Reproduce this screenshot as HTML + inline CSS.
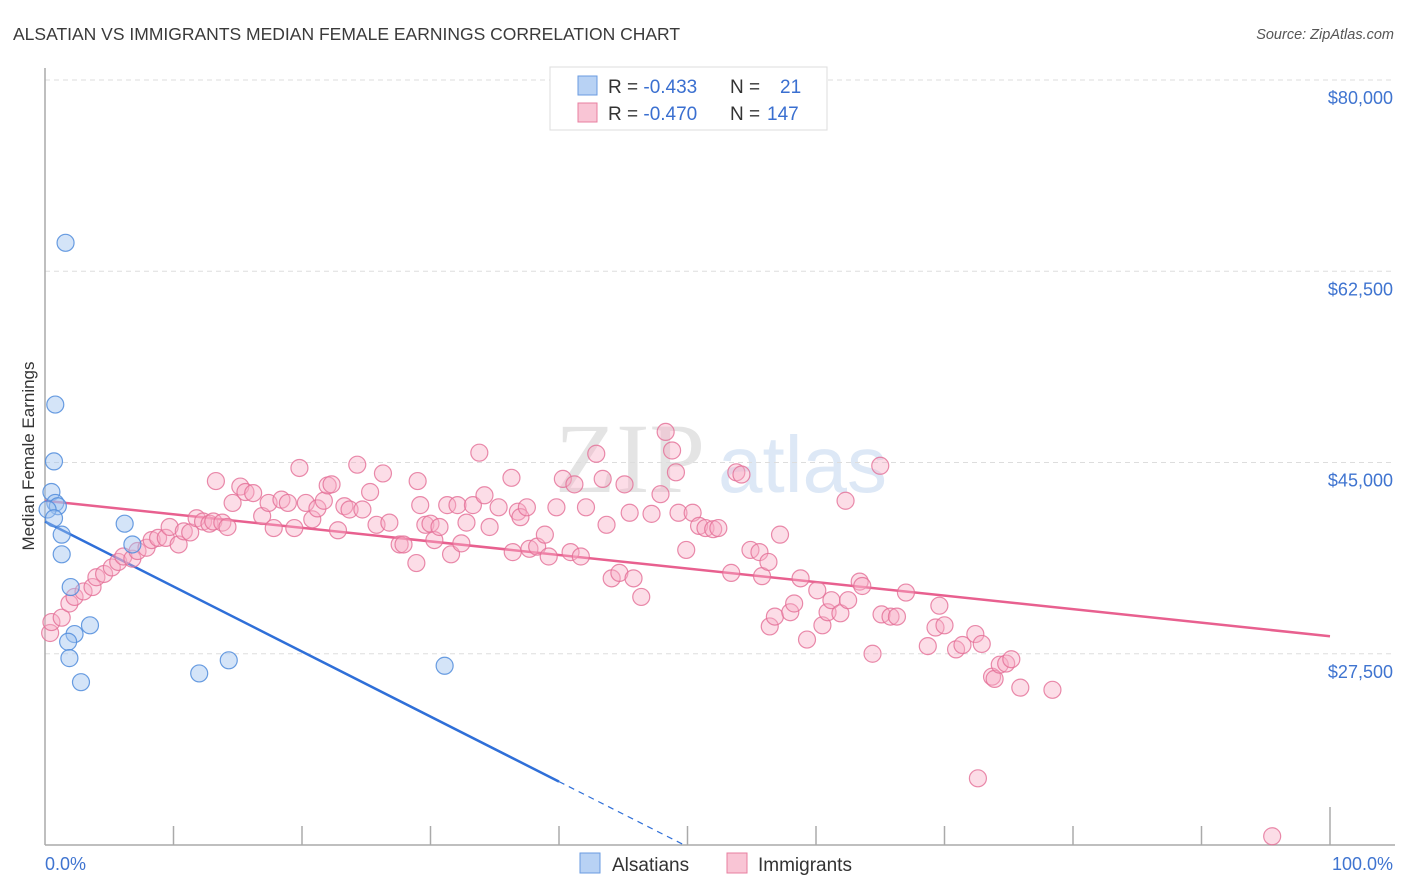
<!DOCTYPE html>
<html><head><meta charset="utf-8"><style>
body{margin:0;background:#fff;font-family:"Liberation Sans",sans-serif}
svg{display:block}
</style></head><body>
<svg id="chart" width="1406" height="892" font-family="Liberation Sans, sans-serif">
<text x="13" y="40" font-size="17.5" fill="#3a3a3a">ALSATIAN VS IMMIGRANTS MEDIAN FEMALE EARNINGS CORRELATION CHART</text>
<text x="1394" y="39" font-size="14.5" font-style="italic" fill="#555" text-anchor="end">Source: ZipAtlas.com</text>
<g>
<text x="555" y="492" font-size="100" font-family="Liberation Serif, serif" fill="#e4e4e4">ZIP</text>
<text x="718" y="492" font-size="80" fill="#dde8f6">atlas</text>
</g>
<g id="grid"></g>
<g id="axes"></g>
<g id="lines"></g>
<g id="pts"></g>
<text transform="translate(34,456) rotate(-90)" font-size="17" fill="#333" text-anchor="middle">Median Female Earnings</text>
<text x="45" y="870" font-size="18" fill="#3f74d0">0.0%</text>
<text x="1393" y="870" font-size="18" fill="#3f74d0" text-anchor="end">100.0%</text>
<g>
<rect x="550" y="67" width="277" height="63" fill="#fff" stroke="#ddd"/>
<rect x="578" y="76" width="19" height="19" fill="#b8d2f4" stroke="#6a9be0"/>
<rect x="578" y="103" width="19" height="19" fill="#f9c5d5" stroke="#e87fa0"/>
<text x="608" y="93" font-size="19" fill="#333">R = <tspan fill="#3a6fd0">-0.433</tspan><tspan x="730">N = </tspan><tspan x="780" fill="#3a6fd0">21</tspan></text>
<text x="608" y="120" font-size="19" fill="#333">R = <tspan fill="#3a6fd0">-0.470</tspan><tspan x="730">N = </tspan><tspan x="767" fill="#3a6fd0">147</tspan></text>
</g>
<g>
<rect x="580" y="853" width="20" height="20" fill="#b8d2f4" stroke="#6a9be0"/>
<text x="612" y="871" font-size="19" fill="#333">Alsatians</text>
</g>
<g>
<rect x="727" y="853" width="20" height="20" fill="#f9c5d5" stroke="#e87fa0"/>
<text x="758" y="871" font-size="19" fill="#333">Immigrants</text>
</g>
</svg>
<script>
const yTicks=[27500,45000,62500,80000];
const yTickLabels=["$27,500","$45,000","$62,500","$80,000"];
const alsX=[1.6,0.8,0.7,0.5,0.8,1.0,0.2,0.7,1.3,6.2,1.3,6.8,2.0,3.5,2.3,1.8,1.9,2.8,12.0,14.3,31.1];
const alsY=[65.1,50.3,45.1,42.3,41.3,41.0,40.7,39.9,38.4,39.4,36.6,37.5,33.6,30.1,29.3,28.6,27.1,24.9,25.7,26.9,26.4];
const immX=[0.4,0.5,1.3,1.9,2.3,3.0,3.7,4.0,4.6,5.2,5.7,6.1,6.8,7.2,7.9,8.3,8.8,9.4,9.7,10.4,10.8,11.3,11.8,12.3,12.8,13.1,13.8,14.2,13.3,14.6,15.2,15.6,16.2,16.9,17.4,17.8,18.4,18.9,19.4,19.8,20.3,20.8,21.2,21.7,22.0,22.3,22.8,23.3,23.7,24.3,24.7,25.3,25.8,26.3,26.8,27.6,27.9,28.9,29.0,29.2,29.6,30.0,30.3,30.7,31.3,31.6,32.1,32.4,32.8,33.3,33.8,34.2,34.6,35.3,36.3,36.4,36.8,37.0,37.5,37.7,38.3,38.9,39.2,39.8,40.3,40.9,41.2,41.7,42.1,42.9,43.4,43.7,44.1,44.7,45.1,45.5,45.8,46.4,47.2,47.9,48.3,48.8,49.1,49.9,49.3,50.4,50.9,51.4,52.0,52.4,53.4,53.8,54.2,54.9,55.6,55.8,56.3,57.2,56.4,56.8,58.0,58.3,58.8,59.3,60.1,60.5,60.9,61.2,61.9,62.5,62.3,63.4,63.6,64.4,65.1,65.8,65.0,66.3,67.0,68.7,69.3,69.6,70.0,70.9,71.4,72.4,72.9,73.7,73.9,74.3,74.8,75.2,75.9,78.4,72.6,95.5];
const immY=[29.4,30.4,30.8,32.1,32.7,33.2,33.6,34.5,34.8,35.4,35.9,36.4,36.2,36.9,37.2,37.9,38.1,38.1,39.1,37.5,38.7,38.6,39.9,39.6,39.4,39.6,39.5,39.1,43.3,41.3,42.8,42.3,42.2,40.1,41.3,39.0,41.6,41.3,39.0,44.5,41.3,39.8,40.8,41.5,42.9,43.0,38.8,41.0,40.7,44.8,40.7,42.3,39.3,44.0,39.5,37.5,37.5,35.8,43.3,41.1,39.3,39.4,37.9,39.1,41.1,36.6,41.1,37.6,39.5,41.1,45.9,42.0,39.1,40.9,43.6,36.8,40.5,40.0,40.9,37.1,37.3,38.4,36.4,40.9,43.5,36.8,43.0,36.4,40.9,45.8,43.5,39.3,34.4,34.9,43.0,40.4,34.4,32.7,40.3,42.1,47.8,46.1,44.1,37.0,40.4,40.4,39.2,39.0,38.9,39.0,34.9,44.1,43.9,37.0,36.8,34.6,35.9,38.4,30.0,30.9,31.3,32.1,34.4,28.8,33.3,30.1,31.3,32.4,31.2,32.4,41.5,34.1,33.7,27.5,31.1,30.9,44.7,30.9,33.1,28.2,29.9,31.9,30.1,27.9,28.3,29.3,28.4,25.4,25.2,26.5,26.6,27.0,24.4,24.2,16.1,10.8];
const fitAls=[39.6,-0.595];
const fitImm=[41.5,-0.124];
const NS="http://www.w3.org/2000/svg";
const X=p=>45+p*12.85;
const Y=k=>845-(k-10)*(765/70);
function mk(parent,tag,attrs){const e=document.createElementNS(NS,tag);for(const k in attrs)e.setAttribute(k,attrs[k]);document.getElementById(parent).appendChild(e);return e;}
yTicks.forEach((v,i)=>{
 const l=mk('grid','line',{x1:45,x2:1393,y1:Y(v/1000),y2:Y(v/1000),stroke:'#ddd','stroke-dasharray':'5,4'});
 
 
 const t=mk('grid','text',{x:1393,y:Y(v/1000)+24,'font-size':18,fill:'#3f74d0','text-anchor':'end'});
 t.textContent=yTickLabels[i];
 
 
});
let a=mk('axes','line',{x1:45,x2:45,y1:68,y2:845,stroke:'#aaa','stroke-width':1.5});


a=mk('axes','line',{x1:45,x2:1395,y1:845,y2:845,stroke:'#aaa','stroke-width':1.5});


for(let i=1;i<=10;i++){
 const t=mk('axes','line',{x1:X(i*10),x2:X(i*10),y1:i==10?807:826,y2:845,stroke:'#aaa','stroke-width':1.5});
 
 
}
function dot(x,y,fill,stroke,name){
 const c=mk('pts','circle',{cx:X(x),cy:Y(y),r:8.5,fill:fill,stroke:stroke,'stroke-width':1.2});
 
 
}
immX.forEach((x,i)=>dot(x,immY[i],'rgba(248,175,198,0.42)','rgba(228,110,150,0.8)','immigrants-point'));
alsX.forEach((x,i)=>dot(x,alsY[i],'rgba(160,195,240,0.45)','rgba(80,140,220,0.85)','alsatians-point'));
let l=mk('lines','line',{x1:X(0),y1:Y(fitImm[0]),x2:X(100),y2:Y(fitImm[0]+fitImm[1]*100),stroke:'#e8608f','stroke-width':2.5});


l=mk('lines','line',{x1:X(0),y1:Y(fitAls[0]),x2:X(40),y2:Y(fitAls[0]+fitAls[1]*40),stroke:'#2f6fd8','stroke-width':2.5});


const xEnd=(fitAls[0]-10)/(-fitAls[1]);
l=mk('lines','line',{x1:X(40),y1:Y(fitAls[0]+fitAls[1]*40),x2:X(xEnd),y2:Y(10),stroke:'#2f6fd8','stroke-width':1.2,'stroke-dasharray':'6,5'});


</script>
</body></html>
